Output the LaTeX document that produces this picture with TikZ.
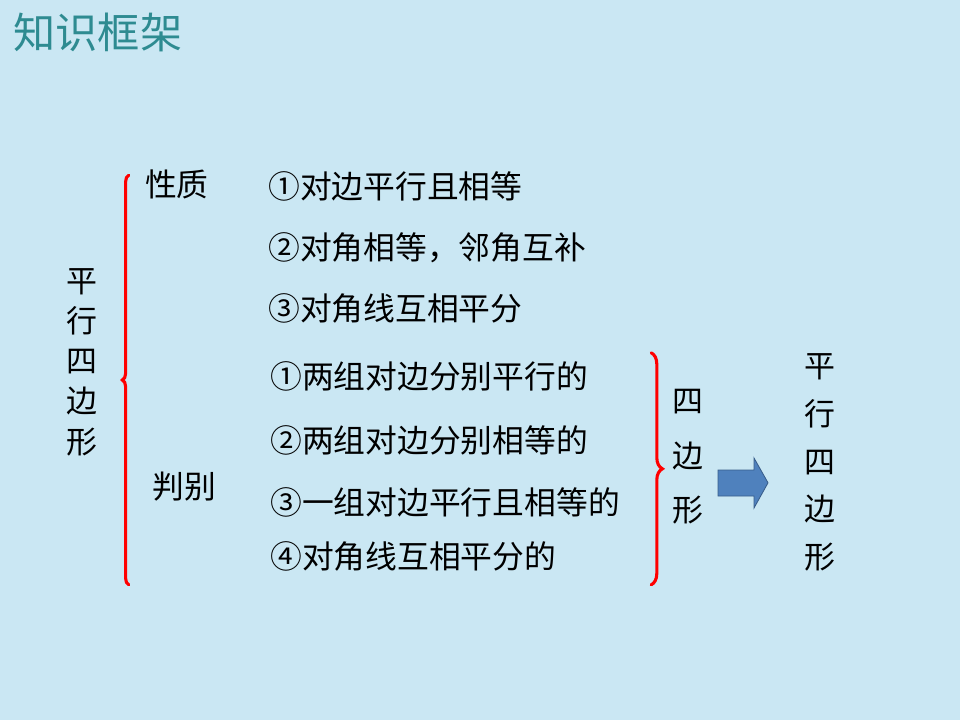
\documentclass[tikz,border=0pt]{standalone}
\usepackage{fontspec}
\newfontfamily\cjk{Noto Sans CJK SC}
\usetikzlibrary{positioning,decorations.pathreplacing}
\definecolor{slidebg}{RGB}{202,231,243}
\definecolor{titleteal}{RGB}{46,139,145}
\definecolor{arrowblue}{RGB}{79,129,189}
\definecolor{arrowedge}{RGB}{56,93,138}
\tikzset{
  item/.style={anchor=west,inner sep=0pt,font=\cjk\fontsize{22.6}{26}\selectfont},
  vtext/.style={align=center,inner sep=0pt},
  redbrace/.style={red,line width=2.2pt,line cap=round,decorate,decoration={brace,amplitude=#1}},
}
\begin{document}
\begin{tikzpicture}
% slide background
\fill[slidebg] (0,0) rectangle (24,18);
\useasboundingbox (0,0) rectangle (24,18);
\node[anchor=west,inner sep=0pt,text=titleteal,font=\cjk\fontsize{30}{32}\selectfont] (title) at (0.33,17.18) {知识框架};
% left part: properties and tests
\node[vtext,font=\cjk\fontsize{22}{28.6}\selectfont] (pxsbx) at (2.05,8.95) {平\\行\\四\\边\\形};
\coordinate (lbtop) at (3.22,13.62);
\coordinate (lbbot) at (3.22,3.38);
\draw[redbrace=0.16cm] (lbbot) -- (lbtop);
\node[item] (xingzhi) at (3.62,13.38) {性质};
\node[item] (panbie) at (3.8,5.83) {判别};
\node[item] (p1) at (6.7,13.35) {①对边平行且相等};
\node[item] (p2) at (6.7,11.8) {②对角相等，邻角互补};
\node[item] (p3) at (6.7,10.3) {③对角线互相平分};
\node[item] (j1) at (6.75,8.58) {①两组对边分别平行的};
\node[item] (j2) at (6.75,7.0) {②两组对边分别相等的};
\node[item] (j3) at (6.75,5.43) {③一组对边平行且相等的};
\node[item] (j4) at (6.75,4.08) {④对角线互相平分的};
% right part: quadrilateral => parallelogram
\coordinate (rbtop) at (16.28,9.18);
\coordinate (rbbot) at (16.28,3.38);
\draw[redbrace=0.28cm] (rbtop) -- (rbbot);
\node[vtext,font=\cjk\fontsize{22}{39}\selectfont] (sbx) at (17.2,6.58) {四\\边\\形};
\draw[arrowedge,fill=arrowblue,line width=0.6pt] (17.95,6.25) -- (18.85,6.25) -- (18.85,6.55) -- (19.2,5.93) -- (18.85,5.3) -- (18.85,5.6) -- (17.95,5.6) -- cycle;
\node[vtext,font=\cjk\fontsize{22}{34}\selectfont] (pxsbx2) at (20.5,6.44) {平\\行\\四\\边\\形};
\end{tikzpicture}
\end{document}
